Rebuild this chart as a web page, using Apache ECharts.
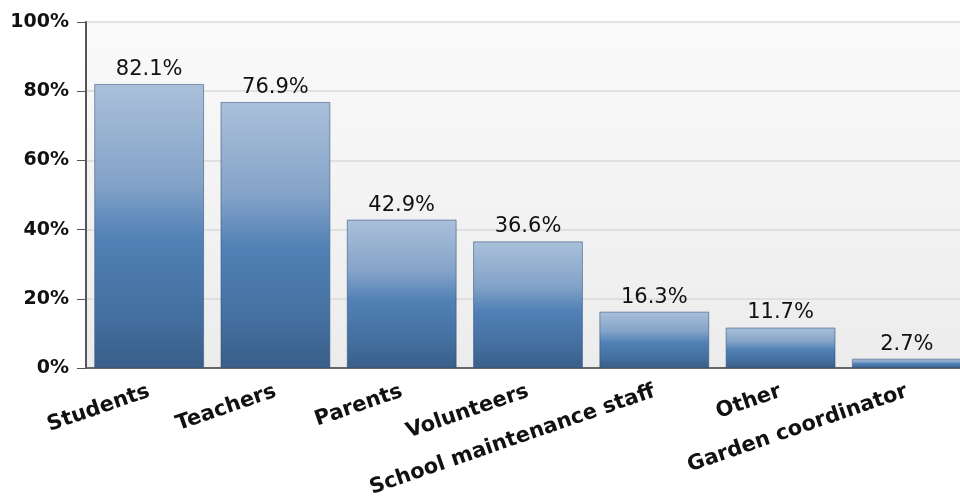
<!DOCTYPE html>
<html>
<head>
<meta charset="utf-8">
<script src="https://cdn.jsdelivr.net/npm/echarts@6/dist/echarts.min.js"></script>
<style>
  html, body { margin: 0; padding: 0; background: #ffffff; }
  #chart { width: 960px; height: 504px; }
</style>
</head>
<body>
<div id="chart"></div>
<script>
// Who takes part in the garden work (share of respondents, %)
const categories = ['Students', 'Teachers', 'Parents', 'Volunteers', 'School maintenance staff', 'Other', 'Garden coordinator'];
const shares = [82.1, 76.9, 42.9, 36.6, 16.3, 11.7, 2.7];
const yTicks = [0, 20, 40, 60, 80, 100];

const chart = echarts.init(document.getElementById('chart'), null, { renderer: 'canvas' });

const barFill = new echarts.graphic.LinearGradient(0, 0, 0, 1, [
  { offset: 0, color: '#aac0da' },
  { offset: 0.35, color: '#84a3c8' },
  { offset: 0.55, color: '#5080b5' },
  { offset: 0.8, color: '#4571a1' },
  { offset: 1, color: '#395e89' }
]);

chart.setOption({
  animation: false,
  backgroundColor: '#ffffff',
  grid: {
    left: 86,
    top: 22,
    bottom: 136,
    width: 884,
    outerBoundsMode: 'none',
    containLabel: false,
    show: true,
    borderWidth: 0,
    backgroundColor: new echarts.graphic.LinearGradient(0, 0, 0, 1, [
      { offset: 0, color: '#fafafa' },
      { offset: 1, color: '#ececec' }
    ])
  },
  xAxis: {
    type: 'category',
    data: categories,
    axisLine: { lineStyle: { color: '#666666', width: 2 } },
    axisTick: { alignWithLabel: true, length: 8, lineStyle: { color: '#555555', width: 1 } },
    axisLabel: {
      interval: 0,
      rotate: 19,
      margin: 23,
      fontFamily: 'DejaVu Sans',
      fontWeight: 'bold',
      fontSize: 21,
      color: '#111111'
    }
  },
  yAxis: {
    type: 'value',
    min: yTicks[0],
    max: yTicks[yTicks.length - 1],
    interval: 20,
    axisLine: { show: true, lineStyle: { color: '#555555', width: 2 } },
    axisTick: { show: true, length: 9, lineStyle: { color: '#555555', width: 1 } },
    axisLabel: {
      margin: 17,
      fontFamily: 'DejaVu Sans',
      fontWeight: 'bold',
      fontSize: 19,
      color: '#111111',
      formatter: v => v + '%'
    },
    splitLine: { lineStyle: { color: '#dadada', width: 1.5 } }
  },
  series: [{
    type: 'bar',
    data: shares,
    barCategoryGap: '13%',
    itemStyle: {
      color: barFill,
      borderColor: 'rgba(45, 80, 120, 0.55)',
      borderWidth: 1
    },
    label: {
      show: true,
      position: 'top',
      distance: 4,
      fontFamily: 'DejaVu Sans',
      fontSize: 21,
      color: '#111111',
      formatter: p => p.value + '%'
    }
  }]
});
</script>
</body>
</html>
